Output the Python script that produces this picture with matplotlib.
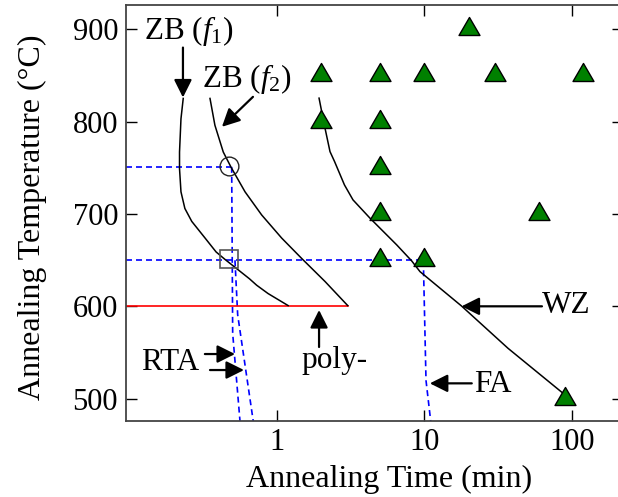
import matplotlib
matplotlib.use('Agg')
import matplotlib.pyplot as plt
from matplotlib.path import Path
from matplotlib.ticker import FixedLocator, FixedFormatter, NullLocator

plt.rcParams['font.family'] = ['Liberation Serif', 'DejaVu Serif']
plt.rcParams['mathtext.fontset'] = 'custom'
plt.rcParams['mathtext.rm'] = 'Liberation Serif'
plt.rcParams['mathtext.it'] = 'Liberation Serif:italic'

# ---------------- data ----------------
x_ticks = [1, 10, 100]
x_ticklabels = ['1', '10', '100']
y_ticks = [500, 600, 700, 800, 900]
x_range = [0.094, 223]
y_range = [476.5, 926]

# WZ experimental points (green triangles)
tri_t = [20, 2, 5, 10, 30, 120, 2, 5, 5, 5, 60, 5, 10, 90]
tri_T = [900, 850, 850, 850, 850, 850, 800, 800, 750, 700, 700, 650, 650, 500]

# ZB (f1) boundary
f1_t = [0.231, 0.223, 0.218, 0.218, 0.223, 0.237, 0.264, 0.325, 0.386, 0.443, 0.532, 0.65, 0.728, 0.87, 1.19]
f1_T = [825, 803, 767, 749, 724, 706, 692, 674, 659, 651, 641, 630, 623, 614, 601]

# ZB (f2) boundary
f2_t = [0.351, 0.379, 0.432, 0.49, 0.607, 0.787, 1.076, 1.47, 2.12, 3.02]
f2_T = [825, 796, 767, 750, 724, 699, 674, 652, 627, 601]

# WZ boundary
wz_t = [1.93, 2.095, 2.29, 2.46, 2.87, 3.28, 4.28, 6.50, 8.21, 9.35, 17.9, 37.0, 88.8]
wz_T = [825.3, 796.4, 767.5, 756.7, 731.5, 715.3, 695.5, 666.6, 649.3, 637.7, 600.5, 554.8, 505.3]

# poly- limit (red)
poly_t = [0.094, 3.02]
poly_T = [600, 600]

# RTA / FA guide lines (blue dashed)
h750_t = [0.094, 0.49]
h750_T = [751, 751]
h650_t = [0.094, 9.85]
h650_T = [650, 650]
rtaA_t = [0.4926, 0.5003, 0.561]
rtaA_T = [751, 571, 476]
rtaB_t = [0.5186, 0.541, 0.690]
rtaB_T = [650, 591, 476]
fa_t = [9.85, 10.27, 11.05]
fa_T = [650, 520, 476]

# reference markers
circ_t, circ_T = [0.474], [752]
sq_t, sq_T = [0.473], [651]

# ---------------- figure ----------------
fig = plt.figure(figsize=(6.18, 4.97), dpi=100)
ax = fig.add_axes([0.2034, 0.1535, 1.008 - 0.2034, 0.9899 - 0.1535])
ax.set_xscale('log')
ax.set_xlim(*x_range)
ax.set_ylim(*y_range)

dash_kw = dict(color='#0000ff', lw=1.2, dashes=(3.6, 2.4))
ax.plot(h750_t, h750_T, **dash_kw)
ax.plot(h650_t, h650_T, **dash_kw)
ax.plot(rtaA_t, rtaA_T, **dash_kw)
ax.plot(rtaB_t, rtaB_T, **dash_kw)
ax.plot(fa_t, fa_T, **dash_kw)

ax.plot(poly_t, poly_T, color='#ff0000', lw=1.2)

ax.plot(f1_t, f1_T, color='k', lw=1.1)
ax.plot(f2_t, f2_T, color='k', lw=1.1)
ax.plot(wz_t, wz_T, color='k', lw=1.1)

tri_marker = Path([(0, 1.147), (-1, -0.573), (1, -0.573), (0, 1.147)],
                  [Path.MOVETO, Path.LINETO, Path.LINETO, Path.CLOSEPOLY])
ax.plot(tri_t, tri_T, ls='none', marker=tri_marker, ms=17.3,
        mfc='#008000', mec='black', mew=1.0, zorder=5)

ax.plot(circ_t, circ_T, ls='none', marker='o', ms=13.5, mfc='none', mec='#222222', mew=1.0)
ax.plot(sq_t, sq_T, ls='none', marker='s', ms=13, mfc='none', mec='#555555', mew=1.2)

# ---------------- annotations ----------------
arrow_kw = dict(arrowstyle='-|>', color='k', lw=1.6, mutation_scale=27,
                shrinkA=0, shrinkB=0)
ax.annotate('', xy=(0.23, 826), xytext=(0.23, 880), arrowprops=arrow_kw)
ax.annotate('', xy=(0.423, 794.3), xytext=(0.687, 826.7), arrowprops=arrow_kw)
ax.annotate('', xy=(0.519, 548.6), xytext=(0.324, 548.6), arrowprops=arrow_kw)
ax.annotate('', xy=(0.597, 531.3), xytext=(0.351, 531.3), arrowprops=arrow_kw)
ax.annotate('', xy=(1.93, 596.2), xytext=(1.93, 556.2), arrowprops=arrow_kw)
ax.annotate('', xy=(17.9, 600.2), xytext=(62.9, 600.2), arrowprops=arrow_kw)
ax.annotate('', xy=(10.9, 516.9), xytext=(21.0, 516.9), arrowprops=arrow_kw)

tfs = 22.5
ax.text(0.1273, 0.9175, r'ZB ($f_{\mathit{1}}$)', transform=ax.transAxes,
        ha='center', va='baseline', fontsize=tfs)
ax.text(0.2439, 0.802, r'ZB ($f_{\mathit{2}}$)', transform=ax.transAxes,
        ha='center', va='baseline', fontsize=tfs)
ax.text(0.0891, 0.122, 'RTA', transform=ax.transAxes, ha='center', va='baseline', fontsize=tfs)
ax.text(0.419, 0.1268, 'poly-', transform=ax.transAxes, ha='center', va='baseline', fontsize=tfs)
ax.text(0.8854, 0.2598, 'WZ', transform=ax.transAxes, ha='center', va='baseline', fontsize=tfs)
ax.text(0.7392, 0.0698, 'FA', transform=ax.transAxes, ha='center', va='baseline', fontsize=tfs)

# ---------------- axes styling ----------------
ax.xaxis.set_major_locator(FixedLocator(x_ticks))
ax.xaxis.set_major_formatter(FixedFormatter(x_ticklabels))
ax.xaxis.set_minor_locator(NullLocator())
ax.yaxis.set_major_locator(FixedLocator(y_ticks))
ax.tick_params(which='major', direction='in', top=True, right=True,
               length=8, width=1.0, labelsize=22, pad=5.5, color='black')
for s in ax.spines.values():
    s.set_linewidth(1.3)
    s.set_color('#444444')

ax.set_xlabel('Annealing Time (min)', fontsize=23)
ax.xaxis.set_label_coords(0.530, -0.1066)
ax.set_ylabel('Annealing Temperature (°C)', fontsize=23)
ax.yaxis.set_label_coords(-0.1589, 0.49)

fig.savefig('out.png', dpi=100)
